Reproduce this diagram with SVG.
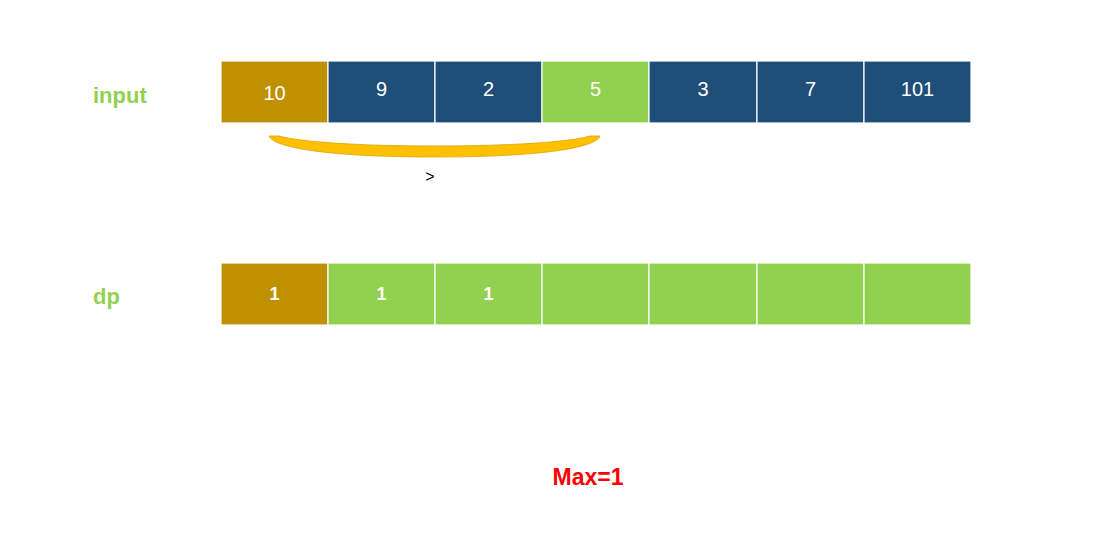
<svg xmlns="http://www.w3.org/2000/svg" width="1119" height="540" viewBox="0 0 1119 540">
<style>
.cell{stroke:#ffffff;stroke-width:1.2}
.gold{fill:#BF9000}
.navy{fill:#1F4E79}
.green{fill:#92D050}
.num{font-family:"Liberation Sans",Arial,sans-serif;font-size:20px;fill:#ffffff;text-anchor:middle}
.dpnum{font-family:"Liberation Sans",Arial,sans-serif;font-size:18px;font-weight:bold;fill:#ffffff;text-anchor:middle}
.lbl{font-family:"Liberation Sans",Arial,sans-serif;font-size:22px;font-weight:bold;fill:#92D050}
</style>
<rect width="1119" height="540" fill="#ffffff"/>
<g id="label-input"><text class="lbl" x="93" y="103">input</text></g>
<g id="label-dp"><text class="lbl" x="93" y="304">dp</text></g>
<g id="input-row">
<g id="in0"><rect class="cell gold" x="221" y="61" width="107" height="62"/><text class="num" x="274.5" y="100" font-size="22">10</text></g>
<g id="in1"><rect class="cell navy" x="328" y="61" width="107" height="62"/><text class="num" x="381.5" y="96">9</text></g>
<g id="in2"><rect class="cell navy" x="435" y="61" width="107" height="62"/><text class="num" x="488.5" y="96">2</text></g>
<g id="in3"><rect class="cell green" x="542" y="61" width="107" height="62"/><text class="num" x="595.5" y="96">5</text></g>
<g id="in4"><rect class="cell navy" x="649" y="61" width="108" height="62"/><text class="num" x="703" y="96">3</text></g>
<g id="in5"><rect class="cell navy" x="757" y="61" width="107" height="62"/><text class="num" x="810.5" y="96">7</text></g>
<g id="in6"><rect class="cell navy" x="864" y="61" width="107" height="62"/><text class="num" x="917.5" y="96">101</text></g>
</g>
<g id="dp-row">
<g id="dp0"><rect class="cell gold" x="221" y="263" width="107" height="62"/><text class="dpnum" x="274.5" y="300">1</text></g>
<g id="dp1"><rect class="cell green" x="328" y="263" width="107" height="62"/><text class="dpnum" x="381.5" y="300">1</text></g>
<g id="dp2"><rect class="cell green" x="435" y="263" width="107" height="62"/><text class="dpnum" x="488.5" y="300">1</text></g>
<g id="dp3"><rect class="cell green" x="542" y="263" width="107" height="62"/></g>
<g id="dp4"><rect class="cell green" x="649" y="263" width="108" height="62"/></g>
<g id="dp5"><rect class="cell green" x="757" y="263" width="107" height="62"/></g>
<g id="dp6"><rect class="cell green" x="864" y="263" width="107" height="62"/></g>
</g>
<g id="connectors">
<path d="M269,136 L279,136 C300,142 360,146 435,146 C510,146 570,142 590,136 L600,136 C596,148 540,157 435,157 C330,157 274,148 269,136 Z" fill="#FFC000" stroke="#D9A400" stroke-width="0.8"/>
<text x="430" y="182" font-family="Liberation Sans,Arial,sans-serif" font-size="16" fill="#000000" text-anchor="middle">&gt;</text>
</g>
<g id="max"><text x="588" y="485" font-family="Liberation Sans,Arial,sans-serif" font-size="23" font-weight="bold" fill="#FF0000" text-anchor="middle">Max=1</text></g>
</svg>
